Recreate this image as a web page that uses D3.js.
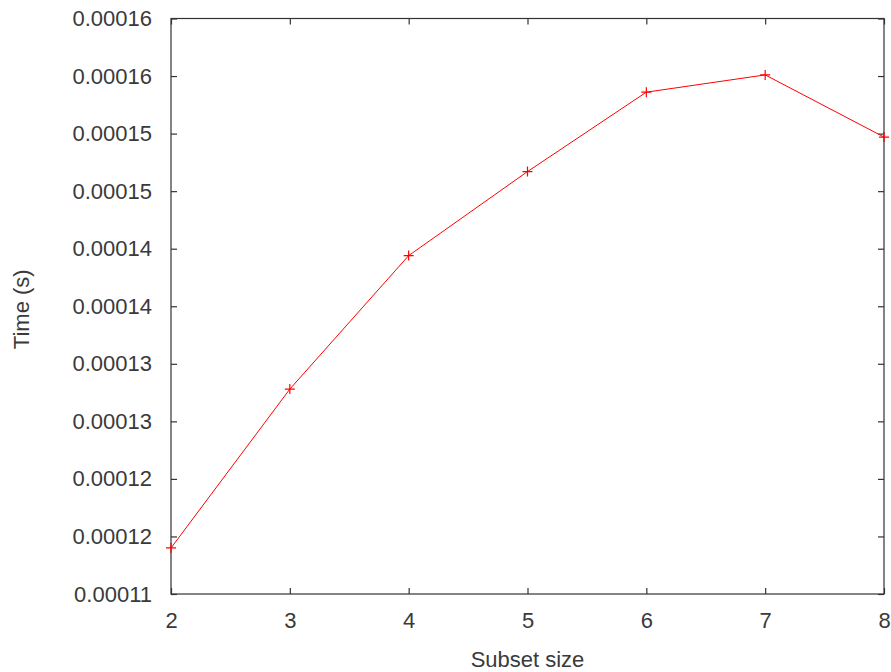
<!DOCTYPE html>
<html>
<head>
<meta charset="utf-8">
<script src="https://cdn.jsdelivr.net/npm/d3@7"></script>
<style>
  body { margin: 0; background: #fff; }
  svg text { font-family: "Liberation Sans", Arial, sans-serif; fill: #3a3a3a; }
</style>
</head>
<body>
<div class="chart"></div>
<script>
// subset size vs time
const sizes = [2, 3, 4, 5, 6, 7, 8];
const times = [0.0001140, 0.0001278, 0.0001394, 0.0001467, 0.0001536, 0.0001551, 0.0001497];

const xTicks = [2, 3, 4, 5, 6, 7, 8];
const yTicks = [0.00011, 0.000115, 0.00012, 0.000125, 0.00013, 0.000135, 0.00014, 0.000145, 0.00015, 0.000155, 0.00016];
const yTickLabels = ["0.00011", "0.00012", "0.00012", "0.00013", "0.00013", "0.00014", "0.00014", "0.00015", "0.00015", "0.00016", "0.00016"];

const w = 891, h = 672;
const plotL = 171, plotR = 884, plotT = 18.5, plotB = 594;
const tickLen = 6;
const fontSize = 22;

const svg = d3.select(".chart")
  .append("svg")
  .attr("width", w)
  .attr("height", h);

const x = d3.scaleLinear().domain([2, 8]).range([plotL, plotR]);
const y = d3.scaleLinear().domain([0.00011, 0.00016]).range([plotB, plotT]);

// frame
svg.append("rect")
  .attr("x", plotL)
  .attr("y", plotT)
  .attr("width", plotR - plotL)
  .attr("height", plotB - plotT)
  .attr("fill", "none")
  .attr("stroke", "#333")
  .attr("stroke-width", 1.2);

// bottom axis, ticks pointing in, labels below
const xAxis = d3.axisBottom(x).tickValues(xTicks).tickSize(-tickLen).tickPadding(18).tickFormat(d3.format("d"));
const gx = svg.append("g").attr("transform", `translate(0,${plotB})`).call(xAxis);
gx.select(".domain").remove();
gx.selectAll("line").attr("stroke", "#333").attr("stroke-width", 1.2);
gx.selectAll("text").attr("font-size", fontSize).attr("fill", "#3a3a3a").style("font-family", "Liberation Sans, Arial, sans-serif");

// top mirror ticks
const gxt = svg.append("g").attr("transform", `translate(0,${plotT})`)
  .call(d3.axisTop(x).tickValues(xTicks).tickSize(-tickLen).tickFormat(""));
gxt.select(".domain").remove();
gxt.selectAll("line").attr("stroke", "#333").attr("stroke-width", 1.2);

// left axis
const yAxis = d3.axisLeft(y).tickValues(yTicks).tickSize(-tickLen).tickPadding(19)
  .tickFormat((d, i) => yTickLabels[i]);
const gy = svg.append("g").attr("transform", `translate(${plotL},0)`).call(yAxis);
gy.select(".domain").remove();
gy.selectAll("line").attr("stroke", "#333").attr("stroke-width", 1.2);
gy.selectAll("text").attr("font-size", fontSize).attr("fill", "#3a3a3a").style("font-family", "Liberation Sans, Arial, sans-serif");

// right mirror ticks
const gyr = svg.append("g").attr("transform", `translate(${plotR},0)`)
  .call(d3.axisRight(y).tickValues(yTicks).tickSize(-tickLen).tickFormat(""));
gyr.select(".domain").remove();
gyr.selectAll("line").attr("stroke", "#333").attr("stroke-width", 1.2);

// axis titles
svg.append("text")
  .attr("x", (plotL + plotR) / 2)
  .attr("y", 667)
  .attr("text-anchor", "middle")
  .attr("font-size", fontSize)
  .text("Subset size");

svg.append("text")
  .attr("transform", `translate(29,${(plotT + plotB) / 2 + 3}) rotate(-90)`)
  .attr("text-anchor", "middle")
  .attr("font-size", fontSize)
  .text("Time (s)");

// the series
const pts = sizes.map((s, i) => [s, times[i]]);

svg.append("path")
  .datum(pts)
  .attr("fill", "none")
  .attr("stroke", "#ff0000")
  .attr("stroke-width", 1)
  .attr("d", d3.line().x(d => x(d[0])).y(d => y(d[1])));

svg.selectAll(".pt")
  .data(pts)
  .enter()
  .append("path")
  .attr("class", "pt")
  .attr("transform", d => `translate(${x(d[0])},${y(d[1])})`)
  .attr("d", "M-5,0H5M0,-5V5")
  .attr("stroke", "#ff0000")
  .attr("stroke-width", 1.2)
  .attr("fill", "none");
</script>
</body>
</html>
